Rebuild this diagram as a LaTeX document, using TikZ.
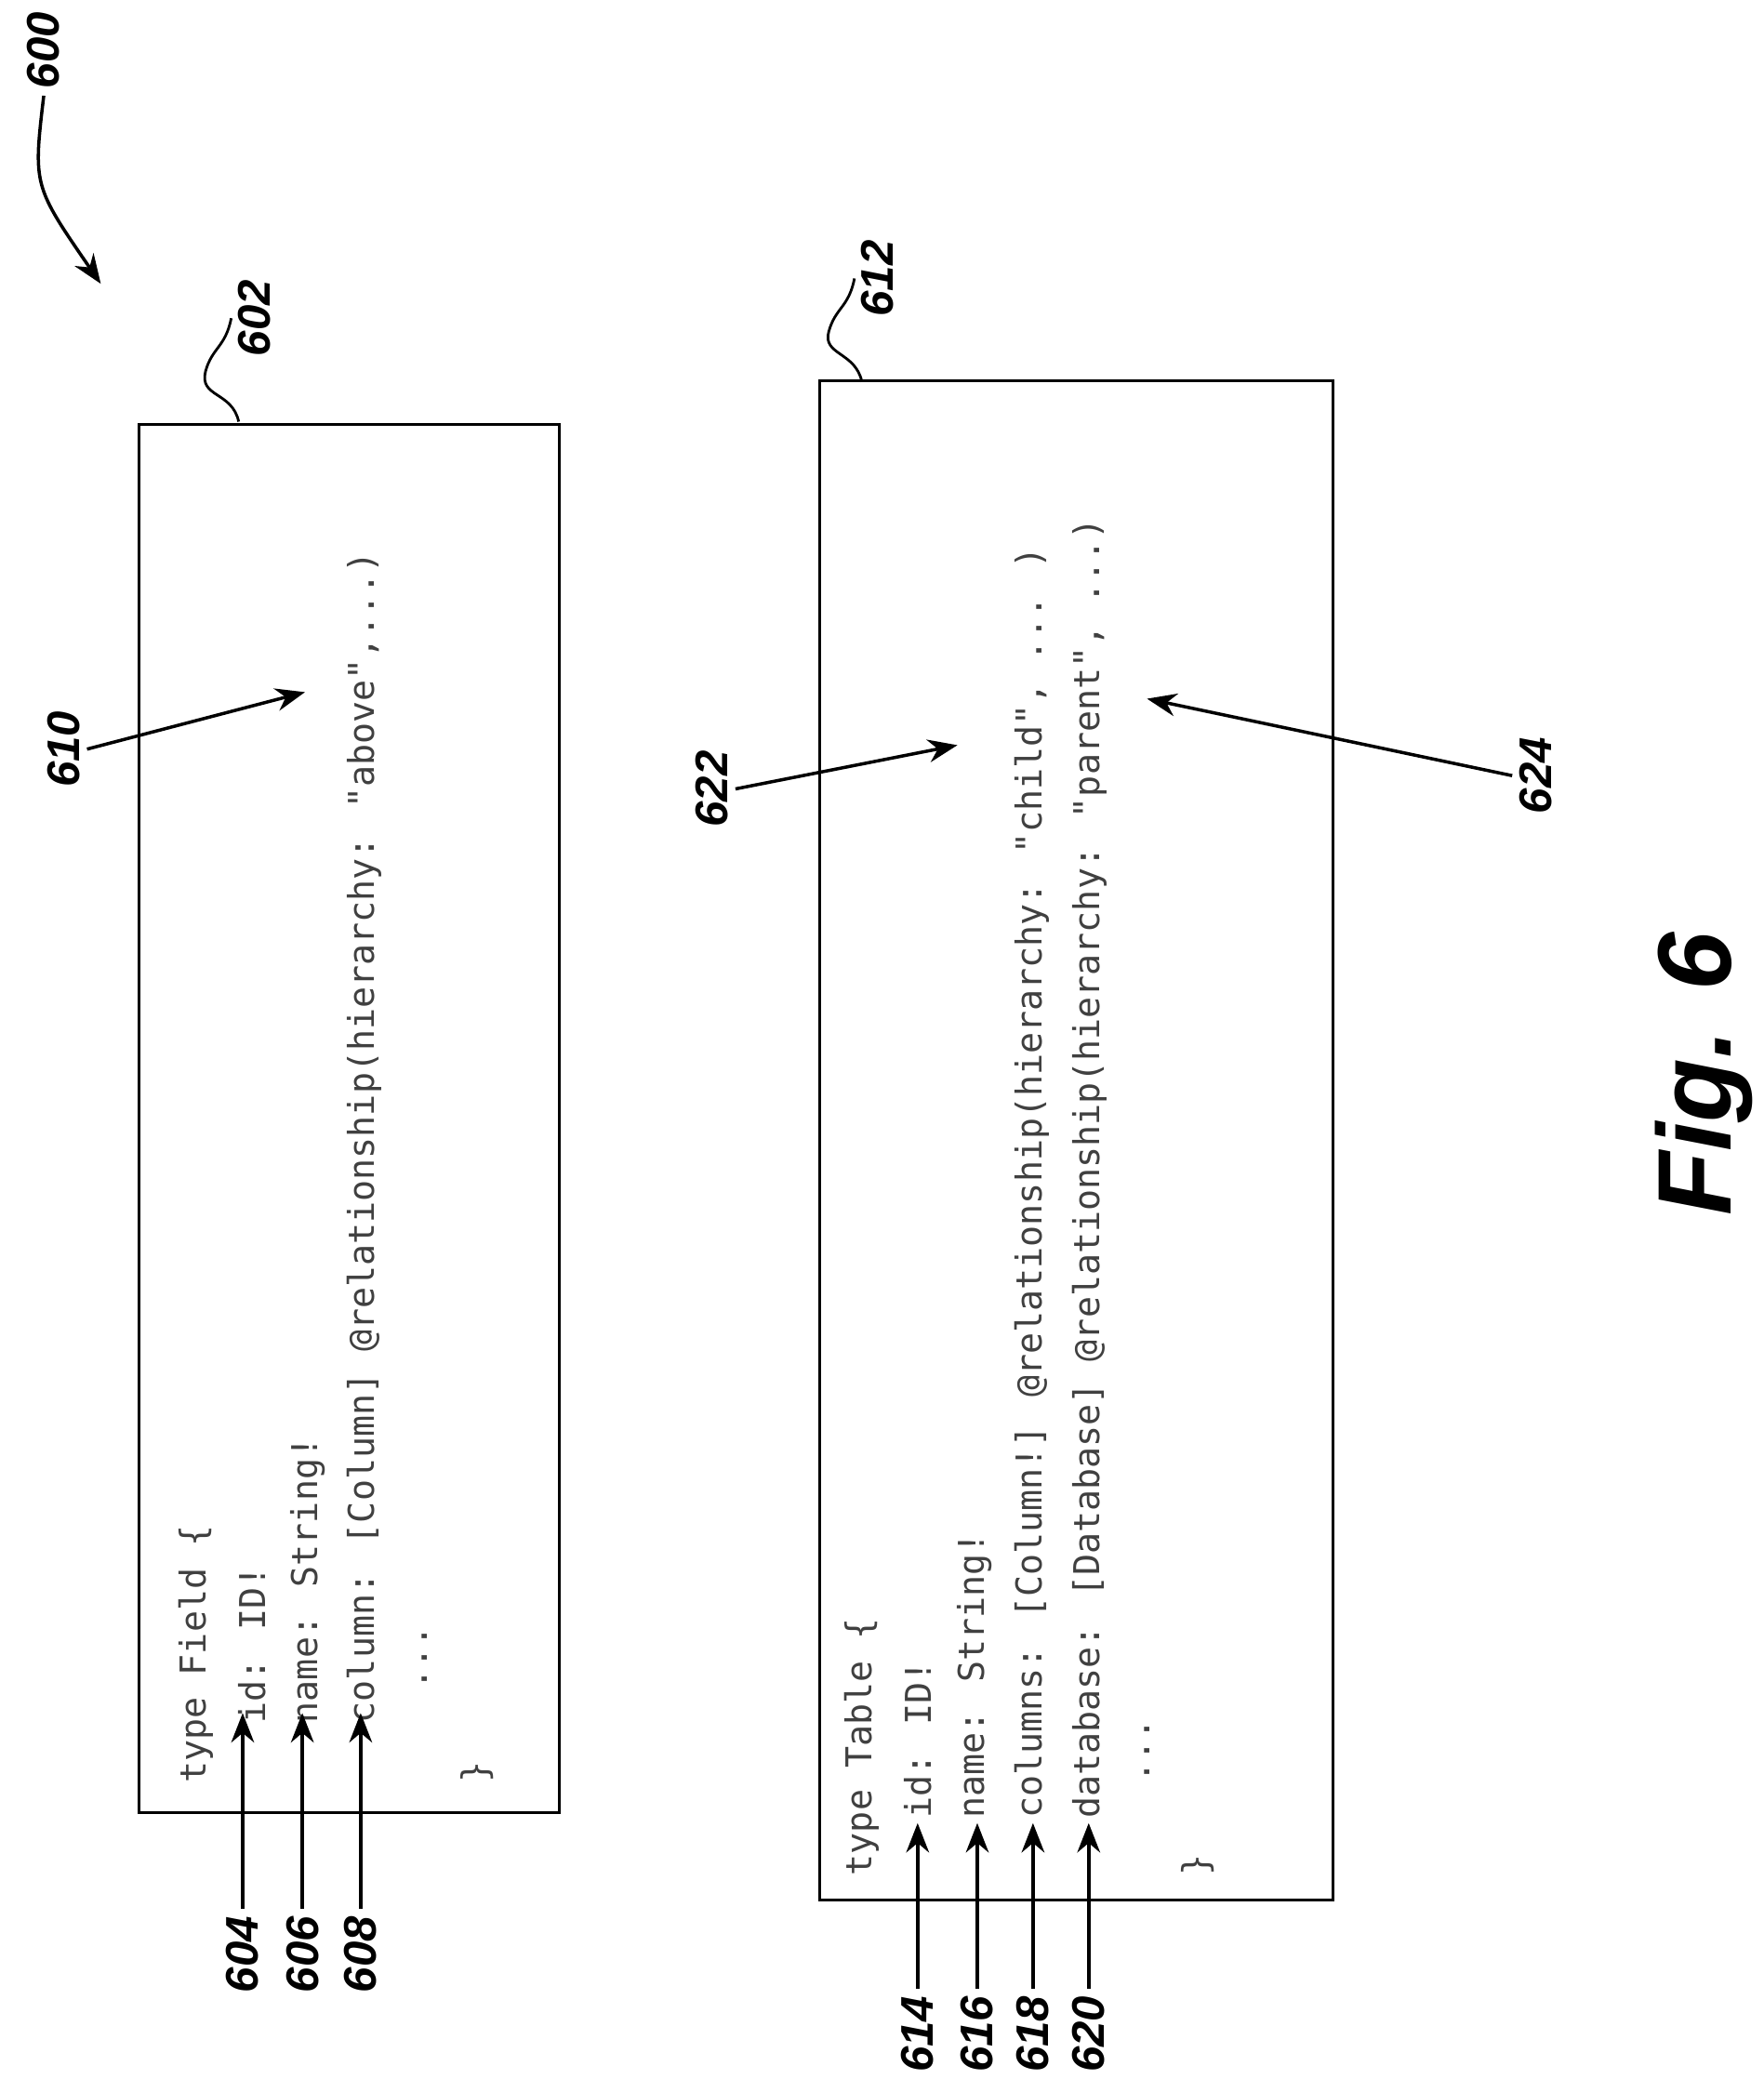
\documentclass[tikz,border=0pt]{standalone}
\usepackage{fontspec}
\setmainfont{Liberation Sans}
\newfontfamily\codefont{DejaVu Sans Mono}
\usetikzlibrary{arrows.meta}

\begin{document}
\begin{tikzpicture}[
    x=0.014263cm, y=-0.014263cm,
    code/.style={rotate=90, anchor=west, inner sep=0pt, font=\codefont\fontsize{10.9}{13}\selectfont, text=black!75},
    lbl/.style={rotate=90, inner sep=2pt, font=\bfseries\itshape\fontsize{14}{16}\selectfont},
    box/.style={draw, line width=0.8pt},
    pointer/.style={-{Stealth[length=9pt,width=7pt]}, line width=1pt}
]
\useasboundingbox (0,0) rectangle (1330,1568);

% boxes
\draw[box] (105,320) rectangle (422,1367);
\draw[box] (618,287) rectangle (1005,1433);

% code of first box
\node[code] (F-1) at (148,1345) {type Field \{};
\node[code] (F-2) at (190,1300) {id: ID!};
\node[code] (F-3) at (232,1300) {name: String!};
\node[code] (F-4) at (275,1300) {column: [Column] @relationship(hierarchy: "above",...)};
\node[code] (F-5) at (320,1275) {...};
\node[code] (F-6) at (360,1345) {\}};

% code of second box
\node[code] (T-1) at (650,1415) {type Table \{};
\node[code] (T-2) at (692,1372) {id: ID!};
\node[code] (T-3) at (735,1372) {name: String!};
\node[code] (T-4) at (778,1372) {columns: [Column!] @relationship(hierarchy: "child", ... )};
\node[code] (T-5) at (822,1372) {database: [Database] @relationship(hierarchy: "parent", ...)};
\node[code] (T-6) at (865,1345) {...};
\node[code] (T-7) at (903,1415) {\}};

% line labels
\foreach \n/\x in {604/183,606/228,608/272} {
    \node[lbl, anchor=east] (L-\n) at (\x,1440) {\n};
    \coordinate (P-\n) at (\x,1292);
    \draw[pointer] (L-\n.east) -- (P-\n);
}
\foreach \n/\x in {614/692,616/737,618/779,620/821} {
    \node[lbl, anchor=east] (L-\n) at (\x,1500) {\n};
    \coordinate (P-\n) at (\x,1375);
    \draw[pointer] (L-\n.east) -- (P-\n);
}

% hierarchy labels
\node[lbl] (L-610) at (48,565) {610};
\coordinate (P-610) at (230,522);
\draw[pointer] (L-610.south) -- (P-610);
\node[lbl] (L-622) at (537,595) {622};
\coordinate (P-622) at (722,562);
\draw[pointer] (L-622.south) -- (P-622);
\node[lbl] (L-624) at (1158,585) {624};
\coordinate (P-624) at (865,527);
\draw[pointer] (L-624.north) -- (P-624);

% box references
\node[lbl] (L-602) at (192,240) {602};
\draw[line width=0.8pt] (180,318) .. controls (175,295) and (150,300) .. (155,280)
    .. controls (160,262) and (170,262) .. (L-602.north);
\node[lbl] (L-612) at (662,210) {612};
\draw[line width=0.8pt] (650,288) .. controls (645,265) and (620,268) .. (625,250)
    .. controls (630,232) and (640,232) .. (L-612.north);

% figure reference
\node[lbl] (L-600) at (33,38) {600};
\coordinate (P-600) at (76,214);
\draw[pointer] (L-600.west) .. controls (25,140) .. (P-600);

\node[rotate=90, font=\bfseries\itshape\fontsize{32}{36}\selectfont] (fig) at (1285,810) {Fig. 6};
\end{tikzpicture}
\end{document}
